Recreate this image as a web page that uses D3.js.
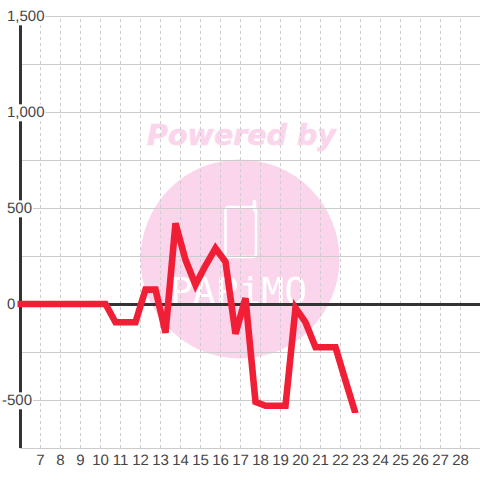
<!DOCTYPE html>
<html>
<head>
<meta charset="utf-8">
<script src="https://cdn.jsdelivr.net/npm/d3@7"></script>
<style>
  html, body { margin: 0; padding: 0; background: #fff; }
  svg { display: block; }
  text { font-family: "Liberation Sans", sans-serif; }
</style>
</head>
<body>
<div id="chart"></div>
<script>
// Values
const hours = [5.85, 6.25, 6.75, 7.25, 7.75, 8.25, 8.75, 9.25, 9.75, 10.25, 10.75, 11.25, 11.75, 12.25, 12.75, 13.25, 13.75, 14.25, 14.75, 15.25, 15.75, 16.25, 16.75, 17.25, 17.75, 18.25, 18.75, 19.25, 19.75, 20.25, 20.75, 21.25, 21.75, 22.25, 22.75];
const amounts = [0, 0, 0, 0, 0, 0, 0, 0, 0, 0, -95, -95, -95, 75, 75, -150, 420, 230, 100, 200, 290, 220, -155, 30, -510, -530, -530, -530, -20, -95, -225, -225, -225, -400, -570];
const xTicks = [7, 8, 9, 10, 11, 12, 13, 14, 15, 16, 17, 18, 19, 20, 21, 22, 23, 24, 25, 26, 27, 28];
const yLabels = [1500, 1000, 500, 0, -500];
const yGrid = [1500, 1250, 1000, 750, 500, 250, -250, -500, -750];

const width = 480, height = 480;

const svg = d3.select('#chart').append('svg')
  .attr('width', width)
  .attr('height', height);

// d3 axes add their own half pixel, so these land on 40.5 and 448.5
const x = d3.scaleLinear().domain([7, 28]).range([40, 460]);
const y = d3.scaleLinear().domain([-750, 1500]).range([448, 16]);

// Watermark sits under everything else
const mark = svg.append('g');
mark.append('circle')
  .attr('cx', 240)
  .attr('cy', 259)
  .attr('r', 99.5)
  .attr('fill', '#fbd5ec');
mark.append('text')
  .attr('x', 241.5)
  .attr('y', 145)
  .attr('text-anchor', 'middle')
  .style('font-family', '"DejaVu Sans"')
  .style('font-weight', 'bold')
  .style('font-style', 'italic')
  .style('font-size', '28.5px')
  .attr('fill', '#fbd5ec')
  .attr('stroke', '#fbd5ec')
  .attr('stroke-width', 0.6)
  .text('Powered by');
mark.append('rect')
  .attr('x', 225.5)
  .attr('y', 207)
  .attr('width', 30.5)
  .attr('height', 50)
  .attr('rx', 3)
  .attr('fill', 'none')
  .attr('stroke', '#fff')
  .attr('stroke-width', 2.5);
mark.append('line')
  .attr('x1', 254.5).attr('x2', 254.5)
  .attr('y1', 201.5).attr('y2', 210)
  .attr('stroke', '#fff')
  .attr('stroke-width', 3.5)
  .attr('stroke-linecap', 'round');
mark.append('text')
  .attr('x', 170)
  .attr('y', 304)
  .style('font-family', '"DejaVu Sans Mono"')
  .style('font-size', '38px')
  .attr('textLength', 137)
  .attr('lengthAdjust', 'spacingAndGlyphs')
  .attr('fill', '#fff')
  .text('PAPiMO');

// Horizontal grid
svg.append('g')
  .attr('transform', 'translate(480,0)')
  .call(d3.axisLeft(y).tickValues(yGrid).tickSize(460).tickFormat(''))
  .call(g => g.select('.domain').remove())
  .call(g => g.selectAll('line').attr('stroke', '#ccc').attr('stroke-width', 1));

// Vertical dashed grid
svg.append('g')
  .attr('transform', 'translate(0,448)')
  .call(d3.axisTop(x).tickValues(xTicks).tickSize(432).tickFormat(''))
  .call(g => g.select('.domain').remove())
  .call(g => g.selectAll('line')
    .attr('stroke', '#ccc')
    .attr('stroke-width', 1)
    .attr('stroke-dasharray', '3,3'));

// Zero line and left axis line
svg.append('line')
  .attr('x1', 20).attr('x2', 480)
  .attr('y1', y(0) + 0.5).attr('y2', y(0) + 0.5)
  .attr('stroke', '#333')
  .attr('stroke-width', 3);
svg.append('line')
  .attr('x1', 20.5).attr('x2', 20.5)
  .attr('y1', y(1500)).attr('y2', 448)
  .attr('stroke', '#333')
  .attr('stroke-width', 3);

// X labels
svg.append('g')
  .attr('transform', 'translate(0,448)')
  .call(d3.axisBottom(x).tickValues(xTicks).tickSize(0).tickPadding(6).tickFormat(d3.format('d')))
  .call(g => g.select('.domain').remove())
  .call(g => g.selectAll('text')
    .style('font-family', '"Liberation Sans"')
    .style('font-size', '15px')
    .style('text-rendering', 'geometricPrecision')
    .attr('fill', '#444'));

// Y labels, each on a white box that cuts the axis and the grid
const yAxis = svg.append('g')
  .call(d3.axisLeft(y).tickValues(yLabels).tickSize(0).tickFormat(d => d3.format(',')(d).replace('\u2212', '-')));
yAxis.select('.domain').remove();
yAxis.selectAll('.tick text')
  .attr('x', d => d < 0 ? 2 : 7)
  .attr('dy', '0.32em')
  .attr('text-anchor', 'start')
  .style('font-family', '"Liberation Sans"')
  .style('font-size', '15px')
  .style('text-rendering', 'geometricPrecision')
  .attr('fill', '#444');
yAxis.selectAll('.tick').each(function(d) {
  if (d === 0) return;
  const box = this.querySelector('text').getBBox();
  d3.select(this).insert('rect', 'text')
    .attr('x', box.x)
    .attr('y', box.y)
    .attr('width', box.width + 1)
    .attr('height', box.height)
    .attr('fill', '#fff');
});

// Series line, its end is cut flat like in the reference
svg.append('clipPath')
  .attr('id', 'line-clip')
  .append('rect')
  .attr('width', width)
  .attr('height', 413);

const line = d3.line()
  .x((d, i) => x(hours[i]) + 0.5)
  .y(d => y(d));

svg.append('path')
  .datum(amounts)
  .attr('d', line)
  .attr('clip-path', 'url(#line-clip)')
  .attr('fill', 'none')
  .attr('stroke', '#f01f36')
  .attr('stroke-width', 6.6)
  .attr('stroke-linejoin', 'miter')
  .attr('stroke-linecap', 'butt');
</script>
</body>
</html>
